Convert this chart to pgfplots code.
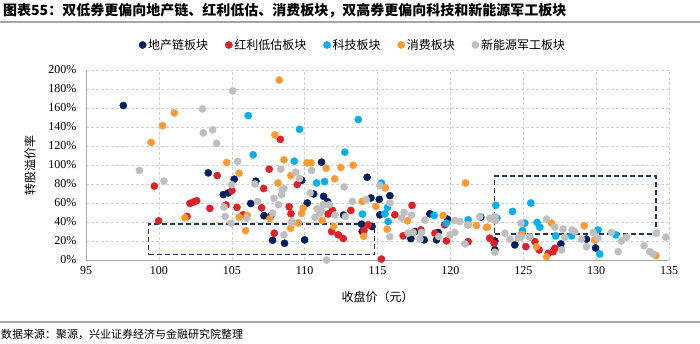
\documentclass[border=0pt]{standalone}
\usepackage{pgfplots}
\pgfplotsset{compat=1.18}
\usepackage{fontspec}
\setmainfont{Liberation Serif}
\newfontfamily\cjk{Noto Sans CJK SC}
\definecolor{cNavy}{HTML}{002060}
\definecolor{cRed}{HTML}{E31E24}
\definecolor{cBlue}{HTML}{00B0F0}
\definecolor{cOrange}{HTML}{FF9A33}
\definecolor{cGray}{HTML}{BFBFBF}
\definecolor{cBox}{HTML}{1F3864}
\definecolor{cAxis}{HTML}{A6A6A6}

\pgfplotstableread{
x y
97.56 162.6
103.39 91.7
105.17 85.0
104.76 70.6
104.42 68.8
106.66 82.9
106.30 59.5
107.21 46.6
107.69 46.6
107.80 20.8
108.62 17.6
109.80 83.9
111.16 103.0
114.29 87.1
110.62 69.5
111.30 67.0
111.57 61.4
110.18 60.0
114.55 65.3
115.12 63.8
112.67 47.3
113.91 37.7
113.95 30.0
114.63 35.2
110.00 21.2
115.85 67.7
115.16 47.6
118.59 48.7
119.80 43.0
117.29 22.5
117.57 30.0
118.20 21.2
119.16 29.0
119.05 21.2
122.09 45.2
123.05 20.1
123.05 10.8
124.42 15.9
127.58 17.0
129.34 22.0
129.96 12.7
}\navytab

\pgfplotstableread{
x y
99.69 77.8
99.98 41.3
101.93 45.8
102.13 59.6
102.36 61.0
102.59 62.4
103.50 54.3
104.00 88.9
104.60 57.9
105.01 73.0
105.36 55.4
105.79 47.6
107.05 55.0
107.19 75.3
107.57 95.6
108.33 127.0
107.92 28.2
108.94 56.0
109.06 48.7
109.49 79.4
111.91 52.2
111.61 48.4
111.85 30.0
112.30 26.5
112.65 22.6
113.17 52.2
114.07 31.0
114.36 37.0
115.27 1.0
116.19 47.6
117.37 57.5
116.76 25.5
117.98 31.7
118.94 28.2
119.73 20.2
119.60 37.0
121.22 19.4
122.70 23.0
123.00 17.6
124.93 28.9
125.18 14.1
125.80 19.4
126.09 10.6
126.71 7.0
127.05 8.8
127.17 12.4
}\redtab

\pgfplotstableread{
x y
106.13 152.0
106.47 110.8
109.29 104.0
109.65 137.6
113.68 147.8
112.76 113.5
110.82 81.1
111.37 82.5
113.97 48.3
115.27 81.0
115.69 55.4
115.51 48.7
115.73 40.5
118.89 46.9
119.73 38.8
121.22 42.3
123.12 57.5
123.20 44.0
124.26 51.1
125.52 60.0
125.11 38.8
124.95 31.0
125.45 24.3
125.95 39.5
126.14 34.6
127.23 25.4
128.31 25.4
130.13 31.7
130.25 6.3
131.35 26.5
}\bluetab

\pgfplotstableread{
x y
99.46 123.8
100.26 141.4
101.06 154.8
101.79 44.4
104.65 102.6
105.50 91.4
105.51 45.2
106.06 46.9
105.95 31.0
107.62 43.5
108.17 81.1
107.96 131.6
108.26 189.4
108.58 105.5
109.06 88.9
109.04 33.5
109.56 39.0
109.90 54.6
109.79 49.0
110.16 102.3
110.45 102.3
111.48 96.6
112.49 97.4
113.33 99.8
112.06 85.4
111.20 41.6
111.99 35.6
113.95 61.7
114.05 25.0
114.89 56.4
115.53 75.8
115.66 32.5
117.06 41.3
119.50 46.9
121.04 81.1
121.22 37.0
121.79 36.3
122.48 34.2
122.55 34.6
124.90 27.0
125.91 14.1
126.60 3.5
126.94 38.8
129.18 36.0
129.90 21.0
134.10 4.6
}\orangetab

\pgfplotstableread{
x y
98.66 94.2
100.35 83.2
102.98 159.0
103.05 133.7
103.69 137.0
103.96 122.7
105.06 178.0
105.40 103.7
104.99 79.4
106.59 80.1
108.37 95.6
108.47 74.1
108.58 75.1
108.42 68.8
104.47 55.8
104.55 45.8
104.95 38.8
106.02 44.0
106.77 61.7
107.80 49.4
107.89 64.9
108.21 58.2
108.58 26.5
109.13 40.0
109.38 92.4
109.65 85.7
110.48 94.2
110.38 70.6
112.71 76.9
113.27 61.7
114.23 63.8
110.86 54.0
111.12 52.6
111.28 58.2
111.67 58.2
112.08 47.3
110.71 44.8
111.05 49.4
112.80 45.8
109.11 40.0
111.51 0.0
115.16 78.3
115.85 60.0
115.85 24.5
116.83 50.0
117.33 47.3
116.65 44.1
118.25 42.0
117.10 28.2
117.45 29.0
118.02 29.0
117.91 22.0
119.20 24.7
119.97 26.5
120.30 29.0
120.30 41.6
120.65 40.5
121.00 17.0
121.18 37.0
122.02 45.8
122.71 44.0
123.05 45.8
123.10 41.6
123.74 28.2
123.05 8.2
124.08 21.9
124.65 23.0
124.84 24.0
124.84 38.8
125.45 24.3
126.59 43.0
127.16 34.6
127.63 10.6
127.85 24.0
127.73 32.5
128.35 31.7
128.54 30.0
129.00 22.0
129.34 14.0
129.80 29.0
130.13 23.0
131.05 29.0
131.74 20.1
132.08 24.0
131.51 8.8
133.29 15.1
133.68 8.8
133.91 6.3
134.14 28.2
134.78 24.0
}\graytab

\begin{document}
\begin{tikzpicture}[x=1pt,y=1pt]
\path[use as bounding box] (0,0) rectangle (700,343);
\node[anchor=west,inner sep=0pt] at (3,332) {\fontsize{14}{16}\selectfont\cjk\bfseries 图表55：双低券更偏向地产链、红利低估、消费板块，双高券更偏向科技和新能源军工板块};
\draw[cAxis,line width=1.2pt] (0,321) -- (700,321);
\draw[cAxis,line width=1.2pt] (0,21) -- (700,21);
\node[anchor=west,inner sep=0pt] at (1,9) {\fontsize{11}{13}\selectfont\cjk 数据来源：聚源，兴业证券经济与金融研究院整理};
\begin{axis}[
  at={(86pt,83pt)}, anchor=south west,
  scale only axis, width=583pt, height=190pt,
  xmin=95, xmax=135, ymin=0, ymax=200,
  xtick={95,100,...,135}, ytick={0,20,...,200},
  yticklabels={0\%,20\%,40\%,60\%,80\%,100\%,120\%,140\%,160\%,180\%,200\%},
  /pgf/number format/assume math mode=true,
  tick label style={font=\fontsize{12}{14}\selectfont},
  yticklabel style={xshift=-6pt},
  xticklabel style={yshift=-3pt},
  major tick length=0pt,
  axis x line*=bottom, axis y line*=left,
  axis line style={-, cAxis, line width=0.9pt},
  grid=major,
  major grid style={densely dashed, color=gray!35, line width=0.5pt},
  clip=false,
  xlabel={\cjk 收盘价（元）},
  ylabel={\cjk 转股溢价率},
  label style={font=\fontsize{12}{14}\selectfont},
  xlabel style={at={(rel axis cs:0.5,-0.195)}, anchor=center},
  ylabel style={at={(rel axis cs:-0.096,0.5)}, anchor=center, rotate=0},
  legend columns=5,
  legend style={at={(rel axis cs:0.458,1.1316)}, anchor=center, draw=none, fill=none,
    font=\fontsize{12}{14}\selectfont, inner sep=0pt,
    /tikz/every even column/.append style={column sep=15pt}},
  legend cell align=left,
  legend image code/.code={\draw[mark repeat=2,mark phase=2,#1] plot coordinates {(0pt,0pt) (3.5pt,0pt) (7pt,0pt)};},
  only marks,
]
\addplot[mark=*, mark size=3.6pt, color=cNavy, mark options={draw=none}] table {\navytab};
\addlegendentry{\cjk 地产链板块}
\addplot[mark=*, mark size=3.6pt, color=cRed, mark options={draw=none}] table {\redtab};
\addlegendentry{\cjk 红利低估板块}
\addplot[mark=*, mark size=3.6pt, color=cBlue, mark options={draw=none}] table {\bluetab};
\addlegendentry{\cjk 科技板块}
\addplot[mark=*, mark size=3.6pt, color=cOrange, mark options={draw=none}] table {\orangetab};
\addlegendentry{\cjk 消费板块}
\addplot[mark=*, mark size=3.6pt, color=cGray, mark options={draw=none}] table {\graytab};
\addlegendentry{\cjk 新能源军工板块}
\addplot[sharp plot, no marks, cBox, line width=1.3pt, dash pattern=on 5pt off 3pt, forget plot]
  coordinates {(99.3,5.5) (114.8,5.5) (114.8,38) (99.3,38) (99.3,5.5)};
\addplot[sharp plot, no marks, cBox, line width=1.3pt, dash pattern=on 5pt off 3pt, forget plot]
  coordinates {(123.05,27.5) (134.1,27.5) (134.1,88.5) (123.05,88.5) (123.05,27.5)};
\end{axis}
\end{tikzpicture}
\end{document}
